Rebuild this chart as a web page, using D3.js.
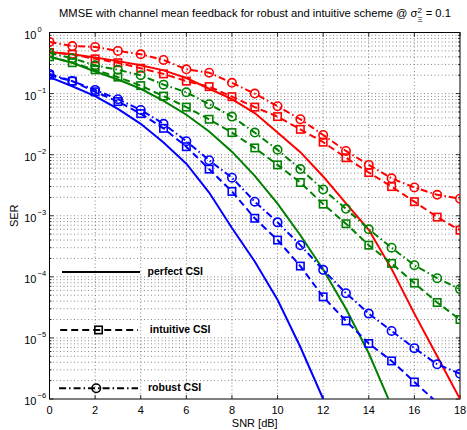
<!DOCTYPE html>
<html>
<head>
<meta charset="utf-8">
<script src="https://cdn.jsdelivr.net/npm/d3@7"></script>
<style>
  body { margin: 0; background: #fff; }
  svg text { font-family: "Liberation Sans", Arial, sans-serif; }
</style>
</head>
<body>
<div id="chart"></div>
<script>
// SNR points [dB]
var snr = [0, 1, 2, 3, 4, 5, 6, 7, 8, 9, 10, 11, 12, 13, 14, 15, 16, 17, 18];

// perfect CSI (solid)
var redPerfect   = [0.48, 0.44, 0.39, 0.34, 0.29, 0.24, 0.18, 0.12, 0.081, 0.048, 0.023, 0.011, 4.4e-3, 1.6e-3, 5.9e-4, 1.35e-4, 2.5e-5, 5.0e-6, 1.0e-6];
var greenPerfect = [0.40, 0.32, 0.23, 0.17, 0.12, 0.076, 0.045, 0.024, 0.0112, 4.5e-3, 1.58e-3, 4.8e-4, 1.32e-4, 3.0e-5, 5.6e-6, 7.6e-7];
var bluePerfect  = [0.186, 0.132, 0.091, 0.056, 0.032, 0.0158, 7.1e-3, 2.4e-3, 6.3e-4, 1.78e-4, 4.2e-5, 7.1e-6, 1.0e-6];

// intuitive CSI (dashed, squares)
var redIntuitive   = [0.47, 0.44, 0.37, 0.32, 0.26, 0.21, 0.16, 0.13, 0.089, 0.060, 0.042, 0.026, 0.016, 8.9e-3, 5.1e-3, 3.0e-3, 1.7e-3, 9.5e-4, 5.8e-4];
var greenIntuitive = [0.40, 0.32, 0.245, 0.186, 0.135, 0.091, 0.060, 0.038, 0.023, 0.0129, 6.8e-3, 3.5e-3, 1.55e-3, 7.4e-4, 3.3e-4, 1.66e-4, 7.9e-5, 3.8e-5, 2.0e-5];
var blueIntuitive  = [0.20, 0.16, 0.107, 0.074, 0.047, 0.027, 0.0135, 5.8e-3, 2.5e-3, 9.1e-4, 4.0e-4, 1.5e-4, 4.7e-5, 1.9e-5, 8.1e-6, 4.2e-6, 1.9e-6, 8.7e-7, 4.0e-7];

// robust CSI (dash-dot, circles)
var redRobust   = [0.70, 0.60, 0.58, 0.50, 0.44, 0.355, 0.25, 0.22, 0.15, 0.10, 0.062, 0.038, 0.021, 0.0115, 6.8e-3, 4.1e-3, 2.9e-3, 2.2e-3, 1.9e-3];
var greenRobust = [0.46, 0.38, 0.29, 0.245, 0.20, 0.14, 0.105, 0.067, 0.042, 0.023, 0.012, 5.8e-3, 2.7e-3, 1.3e-3, 6.0e-4, 3.0e-4, 1.55e-4, 9.5e-5, 6.3e-5];
var blueRobust  = [0.21, 0.16, 0.115, 0.081, 0.054, 0.032, 0.0166, 8.1e-3, 4.2e-3, 1.7e-3, 7.8e-4, 3.3e-4, 1.3e-4, 5.4e-5, 2.5e-5, 1.3e-5, 6.8e-6, 3.7e-6, 2.6e-6];

var xTicks = [0, 2, 4, 6, 8, 10, 12, 14, 16, 18];
var yExponents = [0, -1, -2, -3, -4, -5, -6];
var legendLabels = ["perfect CSI", "intuitive CSI", "robust CSI"];

var width = 467, height = 430;
var pLeft = 49.5, pRight = 460, pTop = 32.5, pBottom = 399;

var svg = d3.select("#chart").append("svg")
  .attr("width", width)
  .attr("height", height);

var x = d3.scaleLinear().domain([0, 18]).range([pLeft, pRight]);
var y = d3.scaleLog().domain([1e-6, 1]).range([pBottom, pTop]);

svg.append("defs").append("clipPath").attr("id", "clip")
  .append("rect")
  .attr("x", pLeft).attr("y", pTop)
  .attr("width", pRight - pLeft).attr("height", pBottom - pTop);

// grid
var minorVals = [];
for (var e = -6; e < 0; e++) {
  for (var m = 2; m <= 9; m++) minorVals.push(m * Math.pow(10, e));
}
var grid = svg.append("g").attr("stroke", "#555").attr("stroke-width", 0.7)
  .attr("stroke-dasharray", "1,2.5");
grid.selectAll("line.gx").data(xTicks.slice(1, -1)).enter().append("line")
  .attr("x1", function(d) { return x(d); }).attr("x2", function(d) { return x(d); })
  .attr("y1", pTop).attr("y2", pBottom);
grid.selectAll("line.gy").data(yExponents.slice(1, -1).map(function(d) { return Math.pow(10, d); }).concat(minorVals))
  .enter().append("line")
  .attr("x1", pLeft).attr("x2", pRight)
  .attr("y1", function(d) { return y(d); }).attr("y2", function(d) { return y(d); });

// ticks (inward, both sides)
var ticks = svg.append("g").attr("stroke", "#000").attr("stroke-width", 0.8);
xTicks.forEach(function(t) {
  ticks.append("line").attr("x1", x(t)).attr("x2", x(t)).attr("y1", pBottom).attr("y2", pBottom - 4);
  ticks.append("line").attr("x1", x(t)).attr("x2", x(t)).attr("y1", pTop).attr("y2", pTop + 4);
});
yExponents.forEach(function(ex) {
  var v = Math.pow(10, ex);
  ticks.append("line").attr("x1", pLeft).attr("x2", pLeft + 4).attr("y1", y(v)).attr("y2", y(v));
  ticks.append("line").attr("x1", pRight).attr("x2", pRight - 4).attr("y1", y(v)).attr("y2", y(v));
});
minorVals.forEach(function(v) {
  ticks.append("line").attr("x1", pLeft).attr("x2", pLeft + 2).attr("y1", y(v)).attr("y2", y(v));
  ticks.append("line").attr("x1", pRight).attr("x2", pRight - 2).attr("y1", y(v)).attr("y2", y(v));
});

// box
svg.append("rect")
  .attr("x", pLeft).attr("y", pTop)
  .attr("width", pRight - pLeft).attr("height", pBottom - pTop)
  .attr("fill", "none").attr("stroke", "#000").attr("stroke-width", 1);

// tick labels
svg.append("g").selectAll("text").data(xTicks).enter().append("text")
  .attr("x", function(d) { return x(d); })
  .attr("y", pBottom + 15)
  .attr("text-anchor", "middle")
  .attr("font-size", 11)
  .text(function(d) { return d; });

var ylab = svg.append("g").selectAll("g").data(yExponents).enter().append("g")
  .attr("transform", function(d) { return "translate(" + (pLeft - 6) + "," + y(Math.pow(10, d)) + ")"; });
ylab.append("text")
  .attr("x", -7)
  .attr("y", 6)
  .attr("text-anchor", "end")
  .attr("font-size", 11)
  .text("10");
ylab.append("text")
  .attr("x", -6)
  .attr("y", -1)
  .attr("text-anchor", "start")
  .attr("font-size", 7.5)
  .text(function(d) { return d === 0 ? "0" : "\u2212" + (-d); });

// axis labels
svg.append("text")
  .attr("x", x(9)).attr("y", 427)
  .attr("text-anchor", "middle").attr("font-size", 11)
  .text("SNR [dB]");
svg.append("text")
  .attr("transform", "translate(18," + ((pTop + pBottom) / 2) + ") rotate(-90)")
  .attr("text-anchor", "middle").attr("font-size", 11)
  .text("SER");

// title
var title = svg.append("text")
  .attr("x", 255).attr("y", 17)
  .attr("text-anchor", "middle").attr("font-size", 11.2);
title.append("tspan").text("MMSE with channel mean feedback for robust and intuitive scheme @ \u03c3");
title.append("tspan").attr("font-size", 8).attr("dy", -4.5).text("2");
title.append("tspan").attr("font-size", 8).attr("dx", -4.5).attr("dy", 9).text("\u039e");
title.append("tspan").attr("dy", -4.5).text(" = 0.1");

// series
var colors = { red: "#ff0000", green: "#008000", blue: "#0000ff" };
var series = [
  { c: colors.red,   v: redPerfect,     style: "perfect" },
  { c: colors.green, v: greenPerfect,   style: "perfect" },
  { c: colors.blue,  v: bluePerfect,    style: "perfect" },
  { c: colors.red,   v: redIntuitive,   style: "intuitive" },
  { c: colors.green, v: greenIntuitive, style: "intuitive" },
  { c: colors.blue,  v: blueIntuitive,  style: "intuitive" },
  { c: colors.red,   v: redRobust,      style: "robust" },
  { c: colors.green, v: greenRobust,    style: "robust" },
  { c: colors.blue,  v: blueRobust,     style: "robust" }
];
var dash = { perfect: null, intuitive: "7,4", robust: "7,3,1.5,3" };

var line = d3.line()
  .x(function(d) { return x(d[0]); })
  .y(function(d) { return y(d[1]); });

var plot = svg.append("g").attr("clip-path", "url(#clip)");

function drawMarker(g, style, cx, cy, color) {
  if (style === "intuitive") {
    g.append("rect").attr("x", cx - 3.7).attr("y", cy - 3.7).attr("width", 7.4).attr("height", 7.4)
      .attr("fill", "none").attr("stroke", color).attr("stroke-width", 1.6);
  } else if (style === "robust") {
    g.append("circle").attr("cx", cx).attr("cy", cy).attr("r", 4.2)
      .attr("fill", "none").attr("stroke", color).attr("stroke-width", 1.6);
  }
}

series.forEach(function(s) {
  var pts = s.v.map(function(v, i) { return [snr[i], v]; });
  plot.append("path")
    .attr("d", line(pts))
    .attr("fill", "none")
    .attr("stroke", s.c)
    .attr("stroke-width", 2)
    .attr("stroke-dasharray", dash[s.style]);
  pts.forEach(function(p) {
    if (p[1] >= 1e-6) drawMarker(plot, s.style, x(p[0]), y(p[1]), s.c);
  });
});

// legend (drawn inside the axes, black)
var legY = [1.2e-4, 1.35e-5, 1.5e-6];
var legX0 = [0.55, 0.47, 0.42], legX1 = [3.97, 3.88, 3.88];
var legMark = [2.1, 2.15, 2.05];
var legText = [4.3, 4.4, 4.32];
var legStyles = ["perfect", "intuitive", "robust"];
var leg = svg.append("g");
legStyles.forEach(function(st, i) {
  var ly = y(legY[i]);
  leg.append("line")
    .attr("x1", x(legX0[i])).attr("x2", x(legX1[i]))
    .attr("y1", ly).attr("y2", ly)
    .attr("stroke", "#000").attr("stroke-width", 2)
    .attr("stroke-dasharray", dash[st]);
  drawMarker(leg, st, x(legMark[i]), ly, "#000");
  leg.append("text")
    .attr("x", x(legText[i])).attr("y", ly + 3)
    .attr("font-size", 10.5).attr("font-weight", "bold")
    .text(legendLabels[i]);
});
</script>
</body>
</html>
